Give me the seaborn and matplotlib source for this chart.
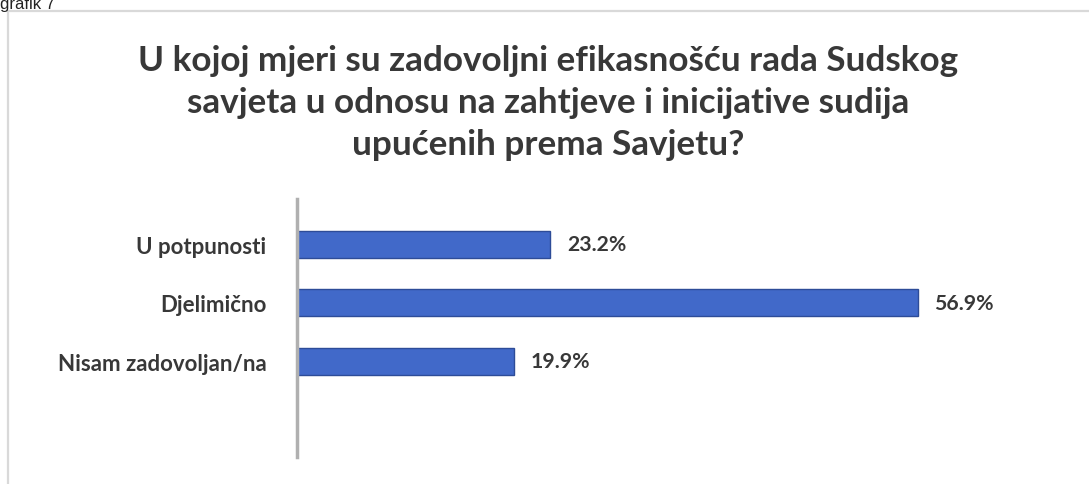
import matplotlib
matplotlib.use("Agg")
import matplotlib.pyplot as plt
import seaborn as sns
from matplotlib.lines import Line2D

# Data
categories = ["U potpunosti", "Djelimično", "Nisam zadovoljan/na"]
values = [23.2, 56.9, 19.9]
value_labels = ["23.2%", "56.9%", "19.9%"]

title = ("U kojoj mjeri su zadovoljni efikasnošću rada Sudskog\n"
         "savjeta u odnosu na zahtjeve i inicijative sudija\n"
         "upućenih prema Savjetu?")

sns.set_style("white")
plt.rcParams['font.family'] = ['Lato', 'DejaVu Sans']

fig = plt.figure(figsize=(10.89, 4.85), dpi=100)

# chart frame (light gray border)
fig.add_artist(Line2D([8 / 1089, 8 / 1089], [0, 1 - 12 / 485],
                      transform=fig.transFigure, color="#d9d9d9", lw=1.6))
fig.add_artist(Line2D([8 / 1089, 1], [1 - 12 / 485, 1 - 12 / 485],
                      transform=fig.transFigure, color="#d9d9d9", lw=1.6))

fig.text(0.0, 1 - 9 / 485, "grafik 7", fontsize=12, color="#222222",
         family=['Liberation Sans', 'DejaVu Sans'], ha="left", va="baseline")

fig.text(0.503, 1 - 103 / 485, title, ha="center", va="center",
         fontsize=25.3, fontweight="bold", color="#383838", linespacing=1.38)

# Axes
ax = fig.add_axes([297 / 1089, 27 / 485, 720 / 1089, 258 / 485])
sns.barplot(x=values, y=categories, orient="h", width=0.46,
            color="#4169C9", edgecolor="#2D4C98", linewidth=1.0,
            saturation=1, ax=ax)

ax.set_xlim(0, 720 / 10.91)
ax.set_ylim(3.64, -0.77)
ax.set_xlabel("")
ax.set_ylabel("")
ax.set_xticks([])

for s in ["top", "right", "bottom"]:
    ax.spines[s].set_visible(False)
ax.spines["left"].set_color("#b0b0b0")
ax.spines["left"].set_linewidth(2.5)

ax.tick_params(axis="y", length=0, pad=22)
for lbl in ax.get_yticklabels():
    lbl.set_fontsize(16)
    lbl.set_fontweight("bold")
    lbl.set_color("#383838")

# value labels
for i, (v, t) in enumerate(zip(values, value_labels)):
    ax.annotate(t, xy=(v, i), xytext=(12, 0), textcoords="offset points",
                ha="left", va="center", fontsize=15.3, fontweight="bold",
                color="#383838")

fig.savefig("out.png", dpi=100)
